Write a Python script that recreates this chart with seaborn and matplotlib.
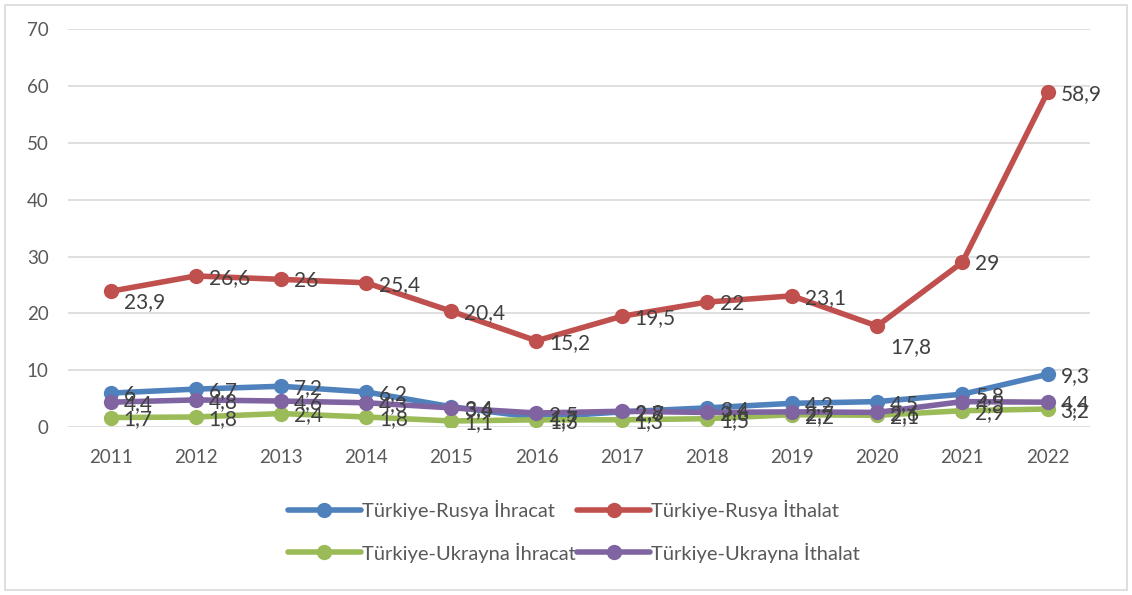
import pandas as pd
import seaborn as sns
import matplotlib.pyplot as plt
from matplotlib.patches import Rectangle

years = [2011, 2012, 2013, 2014, 2015, 2016, 2017, 2018, 2019, 2020, 2021, 2022]
rusya_ihracat = [6, 6.7, 7.2, 6.2, 3.6, 1.7, 2.7, 3.4, 4.2, 4.5, 5.8, 9.3]
rusya_ithalat = [23.9, 26.6, 26, 25.4, 20.4, 15.2, 19.5, 22, 23.1, 17.8, 29, 58.9]
ukrayna_ihracat = [1.7, 1.8, 2.4, 1.8, 1.1, 1.3, 1.3, 1.5, 2.2, 2.1, 2.9, 3.2]
ukrayna_ithalat = [4.4, 4.8, 4.6, 4.3, 3.4, 2.5, 2.8, 2.6, 2.7, 2.6, 4.5, 4.4]

series_names = ["Türkiye-Rusya İhracat", "Türkiye-Rusya İthalat",
                "Türkiye-Ukrayna İhracat", "Türkiye-Ukrayna İthalat"]
series_values = [rusya_ihracat, rusya_ithalat, ukrayna_ihracat, ukrayna_ithalat]
colors = ["#4F81BD", "#C0504D", "#9BBB59", "#8064A2"]

rows = []
for name, vals in zip(series_names, series_values):
    for y, v in zip(years, vals):
        rows.append({"year": y, "value": v, "series": name})
df = pd.DataFrame(rows)

sns.set_style("white")
plt.rcParams['font.family'] = ['Lato', 'DejaVu Sans']
text_color = "#404040"

fig = plt.figure(figsize=(11.32, 5.95), dpi=100)
ax = fig.add_axes([0.060, 0.282, 0.903, 0.669])

sns.lineplot(data=df, x="year", y="value", hue="series", hue_order=series_names,
             palette=colors, marker="o", markersize=11, markeredgewidth=0,
             linewidth=4, ax=ax, legend=False)

# data labels to the right of each point (a couple pushed down like the original)
label_shift = {(1, 2011): -9, (1, 2020): -19}
for i, (name, vals) in enumerate(zip(series_names, series_values)):
    for y, v in zip(years, vals):
        dy = label_shift.get((i, y), 0) - 2
        ax.annotate(str(v).replace(".", ","), (y, v), xytext=(13, dy),
                    textcoords="offset pixels", ha="left", va="center",
                    fontsize=15, color=text_color)

ax.set_xlim(2010.5, 2022.5)
ax.set_ylim(0, 70)
ax.set_yticks(range(0, 71, 10))
ax.set_xticks(years)
ax.set_xticklabels([str(y) for y in years])
ax.set_xlabel("")
ax.set_ylabel("")
ax.tick_params(axis="both", length=0, labelsize=13.5, labelcolor="#595959")
ax.tick_params(axis="x", pad=16)
ax.tick_params(axis="y", pad=14)
ax.grid(axis="y", color="#d9d9d9", linewidth=1.2)
ax.set_axisbelow(True)
for s in ax.spines.values():
    s.set_visible(False)

handles = [plt.Line2D([], [], color=c, linewidth=4, marker="o", markersize=11,
                      markeredgewidth=0) for c in colors]
order = [0, 2, 1, 3]
fig.legend([handles[i] for i in order], [series_names[i] for i in order],
           loc="upper center", bbox_to_anchor=(0.507, 0.19), ncol=2,
           frameon=False, fontsize=14.5, labelcolor="#595959",
           handlelength=3.6, handletextpad=0.05, columnspacing=0.1,
           labelspacing=1.1)

fig.patches.append(Rectangle((0.004, 0.008), 0.992, 0.984, transform=fig.transFigure,
                             fill=False, edgecolor="#d9d9d9", linewidth=1.2))

fig.savefig("out.png", dpi=100, facecolor="white")
